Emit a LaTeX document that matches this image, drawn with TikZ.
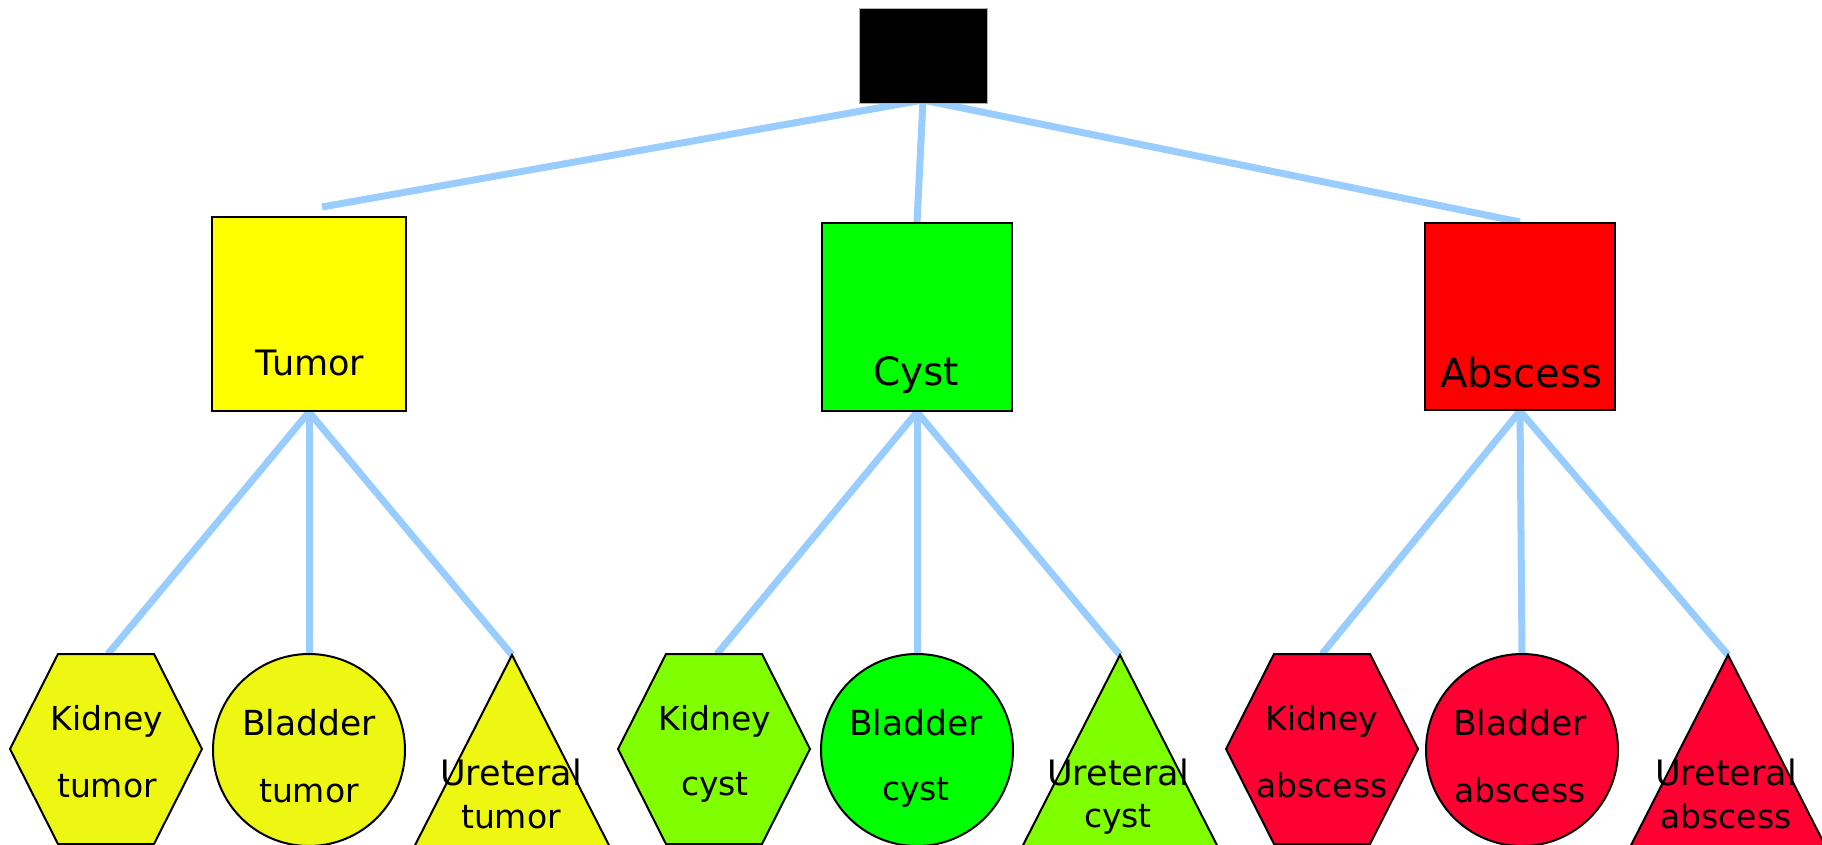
\documentclass[tikz,border=0pt]{standalone}
\usepackage{fontspec}
\setmainfont{DejaVu Sans}
\usetikzlibrary{backgrounds}
\definecolor{linkblue}{HTML}{99CCFF}
\definecolor{tumorbox}{HTML}{FFFF00}
\definecolor{tumorleaf}{HTML}{EEF711}
\definecolor{cystbox}{HTML}{00FF00}
\definecolor{cystleaf}{HTML}{80FF00}
\definecolor{abscessbox}{HTML}{FF0000}
\definecolor{abscessleaf}{HTML}{FF0033}
\begin{document}
\begin{tikzpicture}[x=1pt,y=-1pt,
  link/.style={draw=linkblue,line width=7pt},
  catbox/.style={draw=black,line width=2pt,inner sep=0pt},
  leaf/.style={draw=black,line width=2pt},
  catlabel/.style={anchor=base,inner sep=0pt,font=\fontsize{35}{40}\selectfont},
  leaflabel/.style={anchor=base,inner sep=0pt,font=\fontsize{33}{40}\selectfont},
  hexpic/.pic={\path[pic actions] (-96,0) -- (-48,-95) -- (48,-95) -- (96,0) -- (48,95) -- (-48,95) -- cycle;},
  tripic/.pic={\path[pic actions] (0,-95) -- (103,107) -- (-103,107) -- cycle;},
  circpic/.pic={\path[pic actions] (0,0) circle (96);}
]
\useasboundingbox (0,0) rectangle (1822,845);
\clip (0,0) rectangle (1822,845);

% root and category boxes
\node[fill=black,draw=gray!60,line width=1pt,minimum width=128pt,minimum height=95pt,inner sep=0pt] (root) at (923,56.5) {};
\node[catbox,fill=tumorbox,minimum width=194pt,minimum height=194pt] (tumor) at (309,314) {};
\node[catbox,fill=cystbox,minimum width=190pt,minimum height=188pt] (cyst) at (917,317) {};
\node[catbox,fill=abscessbox,minimum width=190pt,minimum height=187pt] (abscess) at (1520,316.5) {};

\node[catlabel] (tumorlbl) at (310,375) {Tumor};
\node[catlabel,font=\fontsize{39}{40}\selectfont] (cystlbl) at (916,385) {Cyst};
\node[catlabel,font=\fontsize{40}{40}\selectfont] (abscesslbl) at (1521,387) {Abscess};

% joints where the connectors meet
\coordinate (rootjoin) at (923,100);
\coordinate (tumortop) at (322,207);
\coordinate (ktop) at (108,654);
\coordinate (btop) at (309,654);
\coordinate (utop) at (512,655);
\coordinate (kctop) at (717,654);
\coordinate (bctop) at (917,654);
\coordinate (uctop) at (1120,655);
\coordinate (katop) at (1322,654);
\coordinate (batop) at (1522,654);
\coordinate (uatop) at (1728,655);

% leaf shapes
\pic[leaf,fill=tumorleaf] at (106,749) {hexpic};
\pic[leaf,fill=tumorleaf] at (309,750) {circpic};
\pic[leaf,fill=tumorleaf] at (512,750) {tripic};
\pic[leaf,fill=cystleaf] at (714,749) {hexpic};
\pic[leaf,fill=cystbox] at (917,750) {circpic};
\pic[leaf,fill=cystleaf] at (1120,750) {tripic};
\pic[leaf,fill=abscessleaf] at (1322,749) {hexpic};
\pic[leaf,fill=abscessleaf] at (1522,750) {circpic};
\pic[leaf,fill=abscessleaf] at (1728,750) {tripic};

% leaf labels
\node[leaflabel] (kt1) at (107,730) {Kidney};
\node[leaflabel] (kt2) at (107,797) {tumor};
\node[leaflabel,font=\fontsize{34.5}{40}\selectfont] (bt1) at (309,735) {Bladder};
\node[leaflabel] (bt2) at (309,802) {tumor};
\node[leaflabel,font=\fontsize{35}{40}\selectfont] (ut1) at (511,785) {Ureteral};
\node[leaflabel] (ut2) at (511,828) {tumor};

\node[leaflabel] (kc1) at (715,730) {Kidney};
\node[leaflabel] (kc2) at (715,795) {cyst};
\node[leaflabel,font=\fontsize{34.5}{40}\selectfont] (bc1) at (916,735) {Bladder};
\node[leaflabel] (bc2) at (916,800) {cyst};
\node[leaflabel,font=\fontsize{35}{40}\selectfont] (uc1) at (1118,785) {Ureteral};
\node[leaflabel] (uc2) at (1118,827) {cyst};

\node[leaflabel] (ka1) at (1322,730) {Kidney};
\node[leaflabel] (ka2) at (1322,797) {abscess};
\node[leaflabel,font=\fontsize{34.5}{40}\selectfont] (ba1) at (1520,735) {Bladder};
\node[leaflabel] (ba2) at (1520,802) {abscess};
\node[leaflabel,font=\fontsize{35}{40}\selectfont] (ua1) at (1726,785) {Ureteral};
\node[leaflabel] (ua2) at (1726,828) {abscess};

% connectors, kept behind the shapes
\begin{scope}[on background layer]
  \draw[link] (rootjoin) -- (tumortop);
  \draw[link] (rootjoin) -- (cyst.north);
  \draw[link] (rootjoin) -- (abscess.north);
  \draw[link] (tumor.south) -- (ktop);
  \draw[link] (tumor.south) -- (btop);
  \draw[link] (tumor.south) -- (utop);
  \draw[link] (cyst.south) -- (kctop);
  \draw[link] (cyst.south) -- (bctop);
  \draw[link] (cyst.south) -- (uctop);
  \draw[link] (abscess.south) -- (katop);
  \draw[link] (abscess.south) -- (batop);
  \draw[link] (abscess.south) -- (uatop);
\end{scope}
\end{tikzpicture}
\end{document}
